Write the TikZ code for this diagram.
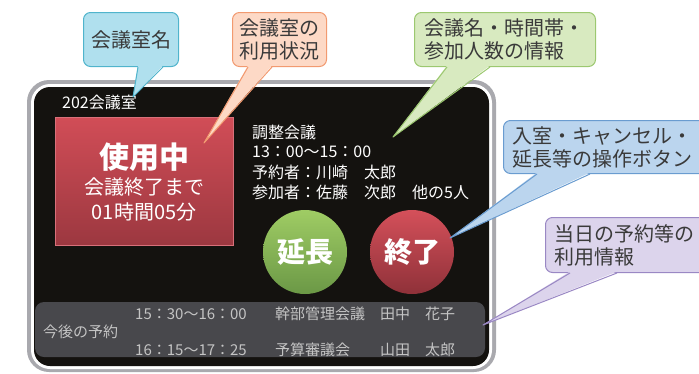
\documentclass[tikz,border=0pt]{standalone}
\usepackage{fontspec}
\setmainfont{Noto Sans CJK JP}
\usepackage{tikz}

\definecolor{framegray}{HTML}{A9A9AE}
\definecolor{screenblack}{HTML}{14120F}
\definecolor{bargray}{HTML}{48484C}
\definecolor{listgray}{HTML}{C4C4C4}
\definecolor{redtop}{HTML}{D14D57}
\definecolor{redbottom}{HTML}{9C3840}
\definecolor{redline}{HTML}{D8707A}
\definecolor{greentop}{HTML}{9FCC64}
\definecolor{greenbottom}{HTML}{6B9846}
\definecolor{endtop}{HTML}{D4505A}
\definecolor{endbottom}{HTML}{8F3139}
\definecolor{calltext}{HTML}{3A3A3A}
\definecolor{cyanfill}{HTML}{B0E0EE}
\definecolor{cyanedge}{HTML}{50B4CC}
\definecolor{orangefill}{HTML}{FDD9C6}
\definecolor{orangeedge}{HTML}{F29A70}
\definecolor{limefill}{HTML}{D8EAC0}
\definecolor{limeedge}{HTML}{9CC870}
\definecolor{bluefill}{HTML}{BBD5EE}
\definecolor{blueedge}{HTML}{6A9CD0}
\definecolor{purplefill}{HTML}{DCD4EC}
\definecolor{purpleedge}{HTML}{9A88C4}

\tikzset{
  screentext/.style={text=white, font=\fontsize{16}{18}\selectfont, inner sep=0pt, anchor=west},
  listtext/.style={text=listgray, font=\fontsize{15}{17}\selectfont, inner sep=0pt, anchor=west},
  callout/.style 2 args={fill=#1, draw=#2, line width=1pt, rounded corners=7pt, anchor=north west,
    inner xsep=9pt, inner ysep=0pt, align=left, text=calltext, font=\fontsize{20}{23}\selectfont},
  button/.style={circle, minimum size=84pt, inner sep=0pt, text=white, font=\fontsize{28}{30}\selectfont\bfseries}
}

\begin{document}
\begin{tikzpicture}[x=1pt,y=-1pt]
    \useasboundingbox (0,0) rectangle (699,373);

    \coordinate (tipRoom) at (133,97);
    \coordinate (tipStatus) at (204,143);
    \coordinate (tipInfo) at (393,137);
    \coordinate (tipButton) at (450,238);
    \coordinate (tipList) at (483,325);

    % screen
    \fill[framegray, rounded corners=22pt] (27,80) rectangle (496,372); % frame
    \fill[white, rounded corners=19pt] (31,84) rectangle (492,369);
    \fill[screenblack, rounded corners=16pt] (34,87) rectangle (489,366); % display

    \node[screentext] (room) at (62,102) {202会議室};

    \node[draw=redline, line width=0.6pt, top color=redtop, bottom color=redbottom,
          minimum width=178pt, minimum height=128pt, inner sep=0pt] (status) at (144,181) {};
    \node[text=white, font=\fontsize{30}{32}\selectfont\bfseries, inner sep=0pt] (inuse) at (144,157) {使用中};
    \node[text=white, font=\fontsize{20}{22}\selectfont, inner sep=0pt] (untilend) at (144,187) {会議終了まで};
    \node[text=white, font=\fontsize{20}{22}\selectfont, inner sep=0pt] (remain) at (144,212) {01時間05分};

    \foreach \txt [count=\i] in {調整会議, 13：00～15：00, 予約者：川崎　太郎, 参加者：佐藤　次郎　他の5人}
        \node[screentext] (info\i) at (252,112+20*\i) {\txt};

    \node[button, top color=greentop, bottom color=greenbottom] (extend) at (305,252) {延長};
    \node[button, top color=endtop, bottom color=endbottom] (finish) at (412,252) {終了};

    \node[fill=bargray, rounded corners=9pt, minimum width=450pt, minimum height=55pt, inner sep=0pt] (upcoming) at (260,329.5) {};
    \node[listtext] (later) at (43,332) {今後の予約};
    \foreach \t/\m/\p [count=\i] in {15：30～16：00/幹部管理会議/田中　花子, 16：15～17：25/予算審議会/山田　太郎}{
        \node[listtext] (time\i) at (135,278+36*\i) {\t};
        \node[listtext] (meet\i) at (275,278+36*\i) {\m};
        \node[listtext] (person\i) at (380,278+36*\i) {\p};
    }

    % callouts
    \node[callout={cyanfill}{cyanedge}, inner xsep=0pt, minimum width=95pt, minimum height=54pt, align=center] (roomname) at (83,12) {会議室名};
    \node[callout={orangefill}{orangeedge}, inner xsep=7pt, minimum height=54pt] (usage) at (232,12) {会議室の\\利用状況};
    \node[callout={limefill}{limeedge}, text width=162pt, inner xsep=9.5pt, minimum height=54pt] (meetinfo) at (414,12) {会議名・時間帯・\\参加人数の情報};
    \node[callout={bluefill}{blueedge}, text width=185pt, minimum height=53pt] (buttons) at (503,120) {入室・キャンセル・\\延長等の操作ボタン};
    \node[callout={purplefill}{purpleedge}, text width=143pt, minimum height=55pt] (todayinfo) at (545,217) {当日の予約等の\\利用情報};

    \foreach \cname/\cfill/\cedge/\la/\lb/\tip in {roomname/cyanfill/cyanedge/55/80/tipRoom,
        usage/orangefill/orangeedge/16/40/tipStatus, meetinfo/limefill/limeedge/33/76/tipInfo,
        buttons/bluefill/blueedge/34/87/tipButton, todayinfo/purplefill/purpleedge/25/72/tipList}{
        \fill[\cfill] ([xshift=\la pt, yshift=1.5pt]\cname.south west) -- ([xshift=\lb pt, yshift=1.5pt]\cname.south west) -- (\tip) -- cycle;
        \draw[\cedge, line width=1pt, line join=round] ([xshift=\la pt]\cname.south west) -- (\tip) -- ([xshift=\lb pt]\cname.south west);
    }
\end{tikzpicture}
\end{document}
